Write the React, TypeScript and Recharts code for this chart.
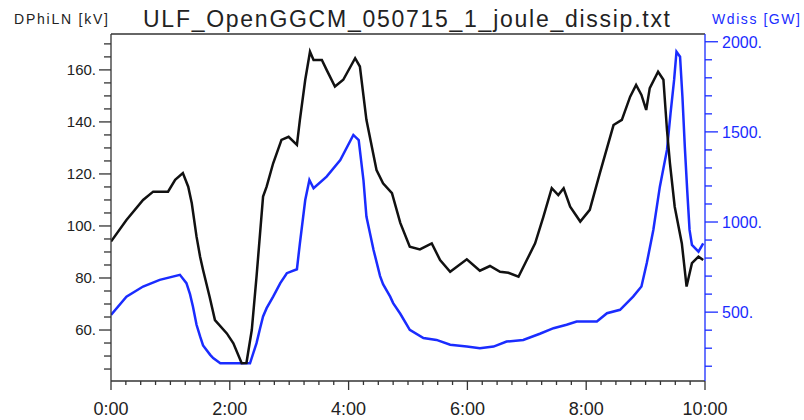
import { ComposedChart, Line, XAxis, YAxis, ReferenceLine } from 'recharts'

// DPhiLN (kV), left axis
const dphiTimes = [
  0.0, 0.26, 0.54, 0.71, 0.96, 1.08, 1.21, 1.3, 1.36, 1.44, 1.5, 1.55, 1.66, 1.75, 1.95, 2.06, 2.2, 2.28, 2.37,
  2.45, 2.56, 2.62, 2.73, 2.87, 2.99, 3.13, 3.18, 3.27, 3.35, 3.41, 3.55, 3.63, 3.77, 3.91, 4.11,
  4.19, 4.3, 4.47, 4.58, 4.73, 4.87, 5.03, 5.2, 5.4, 5.54, 5.71, 5.99, 6.21, 6.38, 6.55, 6.69,
  6.86, 7.0, 7.14, 7.28, 7.42, 7.53, 7.62, 7.73, 7.9, 8.06, 8.23, 8.46, 8.6, 8.74, 8.84, 8.93,
  9.01, 9.07, 9.21, 9.3, 9.36, 9.41, 9.49, 9.61, 9.69, 9.78, 9.89, 9.97,
]
const dphiValues = [
  94.0, 102.3, 110.0, 113.2, 113.2, 117.7, 120.3, 115.1, 108.7, 95.9, 88.2, 83.1, 72.8, 63.8, 58.7, 54.9, 47.2, 47.3, 60.0,
  80.5, 111.3, 115.1, 124.1, 133.1, 134.3, 131.2, 140.8, 156.2, 167.0, 163.8, 163.8, 160.0, 153.6, 156.2, 164.5,
  161.3, 140.8, 121.5, 116.4, 112.6, 101.2, 92.0, 91.0, 93.3, 86.9, 82.4, 87.2, 82.8, 84.6, 82.4, 82.0,
  80.5, 86.9, 93.3, 103.6, 114.5, 111.9, 114.5, 107.4, 101.7, 106.2, 120.3, 138.8, 140.8, 149.7, 154.2, 150.4,
  144.6, 153.0, 159.3, 156.2, 136.9, 124.1, 107.4, 93.3, 76.7, 85.7, 88.2, 86.9,
]

// Wdiss (GW), right axis
const wdissTimes = [
  0.0, 0.26, 0.54, 0.82, 1.16, 1.27, 1.33, 1.38, 1.44, 1.5, 1.55, 1.67, 1.72, 1.84, 2.34, 2.45, 2.51, 2.56, 2.62,
  2.73, 2.85, 2.96, 3.13, 3.18, 3.27, 3.34, 3.41, 3.63, 3.86, 4.08, 4.17, 4.25, 4.3, 4.36, 4.42, 4.53,
  4.58, 4.7, 4.75, 4.87, 5.03, 5.26, 5.48, 5.71, 5.99, 6.21, 6.44, 6.66, 6.94, 7.22, 7.45, 7.67, 7.84,
  8.18, 8.35, 8.57, 8.79, 8.93, 9.02, 9.13, 9.24, 9.36, 9.42, 9.48, 9.52, 9.58, 9.62, 9.66, 9.7, 9.74,
  9.78, 9.89, 9.97,
]
const wdissValues = [
  485, 586, 642, 679, 707, 661, 600, 530, 430, 365, 315, 263, 245, 216, 216, 328, 411, 476, 522,
  586, 661, 716, 738, 882, 1122, 1233, 1187, 1252, 1344, 1483, 1455, 1233, 1030, 938, 845, 700,
  655, 586, 550, 491, 402, 356, 346, 319, 309, 300, 309, 337, 346, 380, 411, 430, 448,
  448, 494, 513, 586, 642, 772, 956, 1196, 1400, 1603, 1788, 1945, 1917, 1695, 1418, 1178, 956,
  873, 836, 882,
]

const timeTicks = Array.from({ length: 41 }, (_, i) => i * 0.25)
const leftTicks = Array.from({ length: 26 }, (_, i) => 45 + i * 5)
const rightTicks = Array.from({ length: 19 }, (_, i) => 200 + i * 100)

const LEFT_DOMAIN: [number, number] = [40.4, 173.8]
const RIGHT_DOMAIN: [number, number] = [118, 2043]

const AXIS = '#333'
const BLUE = '#1a2cff'
const FONT = '"Liberation Sans", Arial, sans-serif'

const dphiData = dphiTimes.map((t, i) => ({ t, v: dphiValues[i] }))
const wdissData = wdissTimes.map((t, i) => ({ t, w: wdissValues[i] }))

function TimeTick({ x, y, payload }: any) {
  const major = payload.value % 2 === 0
  return (
    <g>
      <line x1={x} x2={x} y1={y} y2={y + (major ? 9 : 4)} stroke={AXIS} strokeWidth={1.3} />
      {major && (
        <text x={x} y={y + 34} textAnchor="middle" fontSize={18} fontFamily={FONT} fill="#222">
          {`${payload.value}:00`}
        </text>
      )}
    </g>
  )
}

function LeftTick({ x, y, payload }: any) {
  const major = payload.value % 20 === 0
  return (
    <g>
      <line x1={x} x2={x - (major ? 12 : 7)} y1={y} y2={y} stroke={AXIS} strokeWidth={1.3} />
      {major && (
        <text x={x - 15} y={y + 5} textAnchor="end" fontSize={15} fontFamily={FONT} fill="#222">
          {`${payload.value}.`}
        </text>
      )}
    </g>
  )
}

function RightTick({ x, y, payload }: any) {
  const major = payload.value % 500 === 0
  return (
    <g>
      <line x1={x} x2={x + (major ? 13 : 7)} y1={y} y2={y} stroke={BLUE} strokeWidth={1.3} />
      {major && (
        <text x={x + 17} y={y + 6} textAnchor="start" fontSize={16} fontFamily={FONT} fill={BLUE}>
          {`${payload.value}.`}
        </text>
      )}
    </g>
  )
}

export default function App() {
  return (
    <div style={{ position: 'absolute', left: 0, top: 0, width: 804, height: 420, background: '#fff' }}>
      <ComposedChart width={804} height={420} margin={{ top: 34, right: 0, bottom: 0, left: 0 }}>
        <XAxis
          dataKey="t"
          type="number"
          domain={[0, 10]}
          ticks={timeTicks}
          interval={0}
          height={39}
          tickSize={0}
          tickMargin={0}
          axisLine={{ stroke: AXIS, strokeWidth: 1.3 }}
          tickLine={false}
          tick={<TimeTick />}
          allowDataOverflow
        />
        <YAxis
          yAxisId="left"
          type="number"
          domain={LEFT_DOMAIN}
          ticks={leftTicks}
          interval={0}
          width={111}
          tickSize={0}
          tickMargin={0}
          axisLine={{ stroke: AXIS, strokeWidth: 1.3 }}
          tickLine={false}
          tick={<LeftTick />}
          allowDataOverflow
        />
        <YAxis
          yAxisId="right"
          orientation="right"
          type="number"
          domain={RIGHT_DOMAIN}
          ticks={rightTicks}
          interval={0}
          width={99}
          tickSize={0}
          tickMargin={0}
          axisLine={{ stroke: BLUE, strokeWidth: 1.3 }}
          tickLine={false}
          tick={<RightTick />}
          allowDataOverflow
        />
        <ReferenceLine yAxisId="left" y={LEFT_DOMAIN[1]} stroke={AXIS} strokeWidth={1.3} />
        <Line
          yAxisId="right"
          data={wdissData}
          dataKey="w"
          type="linear"
          stroke={BLUE}
          strokeWidth={2.5}
          dot={false}
          isAnimationActive={false}
        />
        <Line
          yAxisId="left"
          data={dphiData}
          dataKey="v"
          type="linear"
          stroke="#111"
          strokeWidth={2.5}
          dot={false}
          isAnimationActive={false}
        />
      </ComposedChart>
      <svg width={804} height={34} style={{ position: 'absolute', left: 0, top: 0, pointerEvents: 'none' }}>
        <text x={14} y={24} fontSize={14} fontFamily={FONT} fill="#222" textLength={94} lengthAdjust="spacing">
          DPhiLN [kV]
        </text>
        <text x={143} y={27} fontSize={23} fontFamily={FONT} fill="#222" textLength={527} lengthAdjust="spacing">
          ULF_OpenGGCM_050715_1_joule_dissip.txt
        </text>
        <text x={712} y={24} fontSize={14} fontFamily={FONT} fill={BLUE} textLength={88} lengthAdjust="spacing">
          Wdiss [GW]
        </text>
      </svg>
    </div>
  )
}
